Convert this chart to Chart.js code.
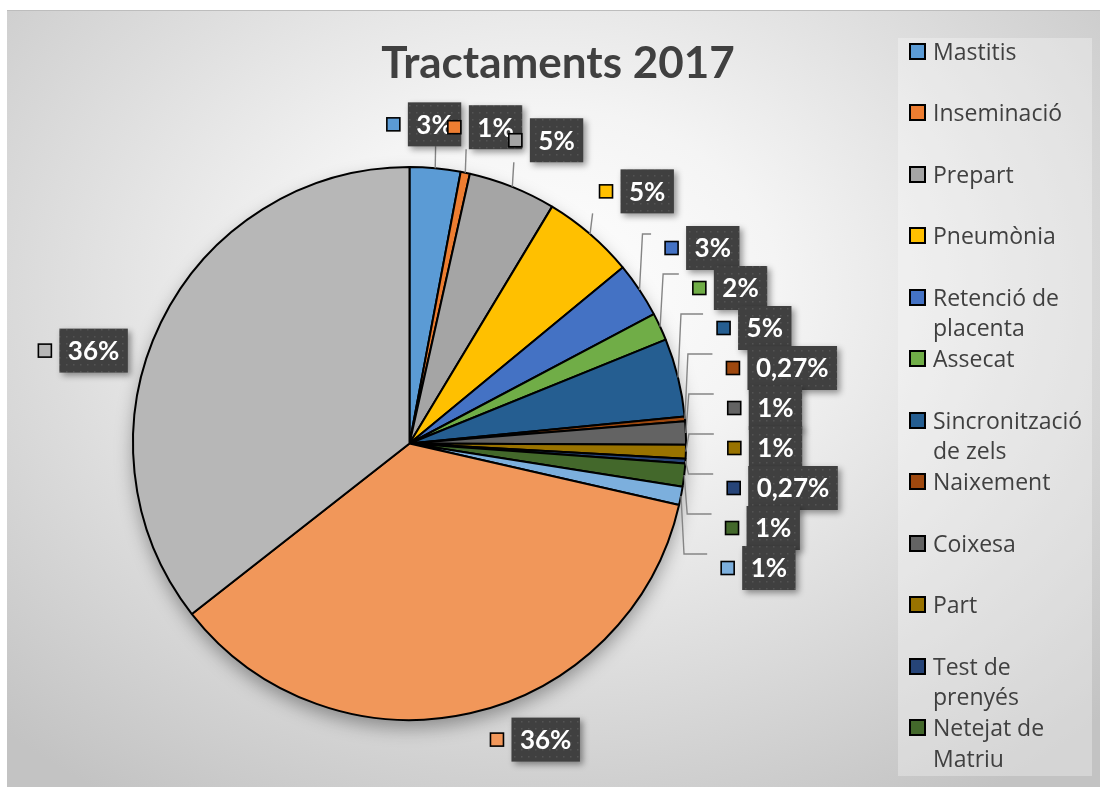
<!DOCTYPE html>
<html>
<head>
<meta charset="utf-8">
<script src="https://cdn.jsdelivr.net/npm/chart.js@4.4.0/dist/chart.umd.min.js"></script>
<style>
  html, body { margin: 0; padding: 0; background: #fff; }
  #wrap {
    position: absolute; left: 7px; top: 10px; width: 1093px; height: 777px; overflow: hidden;
    background: radial-gradient(ellipse 72% 78% at 49% 36%, #ffffff 0%, #f4f4f4 30%, #c3c3c3 100%);
    border-top: 1px solid #bdbdbd; box-sizing: border-box;
  }
  #chart { position: absolute; left: 0; top: 0; }
  #title {
    position: absolute; left: 551px; top: 28px; transform: translateX(-50%);
    font: bold 44px Lato, sans-serif; line-height: 44px; color: #404040; white-space: nowrap;
  }
  #legend {
    position: absolute; left: 891px; top: 27px; width: 194px; height: 738px;
    background: rgba(255,255,255,0.3); overflow: hidden;
  }
  #legend .item {
    position: relative; height: 61.5px; padding-left: 35px; box-sizing: border-box;
    font: 23px "Open Sans", sans-serif; line-height: 30.75px; color: #404040;
  }
  #legend .item:first-child { margin-top: -2.5px; }
  #legend .key {
    position: absolute; left: 11px; top: 7px; width: 13px; height: 13px; border: 2px solid #000;
  }
</style>
</head>
<body>
<div id="wrap">
  <canvas id="chart" width="1093" height="777"></canvas>
  <div id="title">Tractaments 2017</div>
  <div id="legend"></div>
</div>
<script>
// Tractaments 2017 (the last three categories are cut off in the legend)
var labels = ["Mastitis", "Inseminació", "Prepart", "Pneumònia", "Retenció de placenta", "Assecat",
    "Sincronització de zels", "Naixement", "Coixesa", "Part", "Test de prenyés", "Netejat de Matriu",
    "", "", ""];
var counts = [11, 2, 19, 20, 12, 6, 17, 1, 5, 3, 1, 5, 4, 133, 132];
var colors = ["#5B9BD5", "#ED7D31", "#A5A5A5", "#FFC000", "#4472C4", "#70AD47",
    "#255E91", "#9E480E", "#636363", "#997300", "#264478", "#43682B",
    "#7CAFDD", "#F1975A", "#B7B7B7"];

var total = counts.reduce(function (a, b) { return a + b; }, 0);

function fmtPct(v) {
    var p = v / total * 100;
    if (p < 0.5) return p.toFixed(2).replace('.', ',') + '%';
    return Math.round(p) + '%';
}

// Legend
var legendEl = document.getElementById('legend');
labels.forEach(function (name, i) {
    var item = document.createElement('div');
    item.className = 'item';
    item.innerHTML = '<span class="key" style="background:' + colors[i] + '"></span>' + name;
    legendEl.appendChild(item);
});

// dotted fill for the label boxes
var pat = document.createElement('canvas');
pat.width = 7; pat.height = 7;
var pctx = pat.getContext('2d');
pctx.fillStyle = '#404040'; pctx.fillRect(0, 0, 7, 7);
pctx.fillStyle = '#545454'; pctx.fillRect(3, 3, 1.5, 1.5);

var BOX_H = 44, KEY = 13, KEY_GAP = 8;
var LABEL_FONT = 'bold 26px Lato, sans-serif';
var BIG_SHIFT = -9 * Math.PI / 180;   // best-fit nudge for the two big slices

function relax(list, key, minGap) {
    for (var n = 0; n < 300; n++) {
        for (var k = 1; k < list.length; k++) {
            var d = list[k][key] - list[k - 1][key];
            if (d < minGap) {
                var o = (minGap - d) / 2;
                list[k - 1][key] -= o;
                list[k][key] += o;
            }
        }
    }
}

var pieExtras = {
    id: 'pieExtras',
    beforeDatasetsDraw: function (chart) {
        var ctx = chart.ctx;
        var arc = chart.getDatasetMeta(0).data[0];
        ctx.save();
        ctx.shadowColor = 'rgba(0,0,0,0.35)';
        ctx.shadowBlur = 18;
        ctx.shadowOffsetY = 8;
        ctx.fillStyle = '#999';
        ctx.beginPath();
        ctx.arc(arc.x, arc.y, arc.outerRadius, 0, Math.PI * 2);
        ctx.fill();
        ctx.restore();
    },
    afterDatasetsDraw: function (chart) {
        var ctx = chart.ctx;
        var arcs = chart.getDatasetMeta(0).data;
        ctx.save();
        ctx.font = LABEL_FONT;

        var items = arcs.map(function (arc, i) {
            var big = counts[i] / total > 0.1;
            var mid = (arc.startAngle + arc.endAngle) / 2 + (big ? BIG_SHIFT : 0);
            var ux = Math.cos(mid), uy = Math.sin(mid);
            var text = fmtPct(counts[i]);
            var bw = ctx.measureText(text).width + 17;
            var blockW = KEY + KEY_GAP + bw;
            var r = arc.outerRadius + 20 + (big ? 0 : 22 * Math.abs(ux));
            return {
                i: i, big: big, ux: ux, uy: uy, text: text, bw: bw, blockW: blockW, arc: arc,
                mid: (arc.startAngle + arc.endAngle) / 2,
                x: arc.x + ux * r + ux * blockW / 2,
                y: arc.y + uy * r + uy * BOX_H / 2
            };
        });

        // spread the labels stacked on the right side, and the ones on top
        relax(items.filter(function (it) { return !it.big && it.ux > 0.7; }), 'y', 40);
        relax(items.filter(function (it) { return !it.big && it.uy < -0.7; }), 'x', 61);

        // leader lines
        ctx.strokeStyle = '#858585';
        ctx.lineWidth = 1.4;
        items.forEach(function (it) {
            if (it.big) return;
            var a = it.arc;
            var ux = Math.cos(it.mid), uy = Math.sin(it.mid);
            var ax = a.x + ux * a.outerRadius, ay = a.y + uy * a.outerRadius;
            var left = it.x - it.blockW / 2;
            ctx.beginPath();
            ctx.moveTo(ax, ay);
            if (it.ux > 0.7) {
                var sy = it.y - BOX_H / 2 + 8;
                ctx.lineTo(ax + 3, sy);
                ctx.lineTo(left - 14, sy);
            } else {
                ctx.lineTo(ax + ux * 4, it.y + BOX_H / 2);
            }
            ctx.stroke();
        });

        // labels
        items.forEach(function (it) {
            var left = it.x - it.blockW / 2;
            ctx.fillStyle = colors[it.i];
            ctx.fillRect(left, it.y - KEY / 2, KEY, KEY);
            ctx.strokeStyle = '#000';
            ctx.lineWidth = 1.6;
            ctx.strokeRect(left, it.y - KEY / 2, KEY, KEY);

            var bx = left + KEY + KEY_GAP;
            ctx.save();
            ctx.shadowColor = 'rgba(0,0,0,0.4)';
            ctx.shadowBlur = 6;
            ctx.shadowOffsetX = 3;
            ctx.shadowOffsetY = 3;
            ctx.fillStyle = ctx.createPattern(pat, 'repeat');
            ctx.fillRect(bx, it.y - BOX_H / 2, it.bw, BOX_H);
            ctx.restore();

            ctx.fillStyle = '#fff';
            ctx.textAlign = 'center';
            ctx.textBaseline = 'middle';
            ctx.fillText(it.text, bx + it.bw / 2, it.y + 1);
        });
        ctx.restore();
    }
};

var chart = new Chart(document.getElementById('chart'), {
    type: 'pie',
    data: {
        labels: labels,
        datasets: [{
            data: counts,
            backgroundColor: colors,
            borderColor: '#000',
            borderWidth: 2
        }]
    },
    options: {
        responsive: false,
        animation: false,
        layout: { padding: { left: 125, top: 155, right: 413, bottom: 67 } },
        plugins: {
            legend: { display: false },
            tooltip: { enabled: false }
        }
    },
    plugins: [pieExtras]
});
</script>
</body>
</html>
